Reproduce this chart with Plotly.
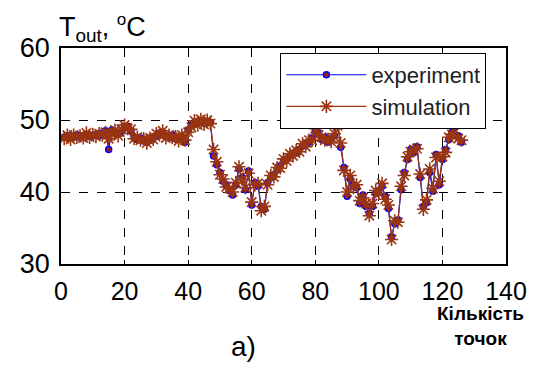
import plotly.graph_objects as go

x_points = list(range(1, 127))

experiment = [
    47.6, 47.8, 47.5, 47.7, 47.9, 47.6, 47.8, 48.0, 47.7, 47.8,
    48.0, 47.8, 48.2, 48.5, 45.9, 48.6, 48.3, 48.0, 48.4, 48.9,
    49.1, 48.5, 47.6, 47.3, 47.5, 47.1, 46.9, 47.2, 47.5, 47.8,
    48.2, 48.3, 47.8, 47.6, 47.9, 47.4, 47.3, 47.6, 46.9, 48.6,
    49.3, 49.7, 49.5, 49.9, 49.6, 49.8, 49.7, 45.0, 43.8, 42.7,
    41.5, 41.0, 40.2, 39.6, 41.0, 43.2, 42.0, 40.3, 42.9, 38.2,
    41.3, 40.8, 38.0, 37.6, 41.3, 42.0, 42.4, 43.1, 43.6, 44.3,
    44.6, 45.0, 45.2, 45.5, 45.9, 46.4, 46.6, 46.9, 47.5, 48.5,
    48.2, 47.3, 47.6, 46.9, 47.4, 47.8, 50.0, 46.2, 43.4, 39.4,
    41.8, 41.0, 40.6, 38.4, 39.6, 38.0, 37.0, 38.0, 39.8, 40.2,
    40.8, 39.4, 37.7, 33.8, 35.6, 36.1, 40.3, 42.7, 44.5, 45.9,
    45.5, 46.3, 42.0, 38.0, 38.5, 42.7, 40.1, 45.2, 41.0, 44.5,
    45.9, 47.3, 48.3, 49.0, 47.8, 46.9,
]

simulation = [
    47.4, 47.9, 47.3, 47.9, 47.6, 47.8, 47.5, 48.2, 47.6, 48.0,
    47.7, 48.1, 47.9, 48.3, 47.4, 48.0, 48.6, 47.8, 48.7, 49.3,
    48.8, 48.7, 47.4, 47.6, 47.2, 47.4, 46.8, 47.5, 47.3, 48.1,
    47.9, 48.5, 47.5, 47.9, 47.6, 47.7, 47.1, 47.9, 47.2, 48.3,
    49.0, 49.9, 49.3, 50.1, 49.4, 50.0, 49.5, 45.9, 44.2, 42.4,
    41.8, 40.7, 40.5, 40.0, 41.3, 43.5, 41.7, 40.6, 42.6, 38.6,
    41.0, 41.2, 37.4, 38.0, 41.0, 42.3, 42.1, 43.4, 43.3, 44.6,
    44.3, 45.3, 45.0, 45.8, 45.6, 46.7, 46.3, 47.2, 47.2, 48.8,
    47.9, 47.6, 47.2, 47.3, 47.0, 48.1, 49.2, 46.8, 43.0, 40.0,
    42.3, 40.6, 41.0, 38.8, 39.2, 38.4, 36.7, 38.4, 40.2, 39.8,
    41.2, 39.0, 38.2, 33.4, 36.0, 35.8, 40.8, 42.3, 44.9, 45.6,
    45.9, 46.0, 42.5, 37.6, 38.9, 43.2, 40.5, 44.8, 41.5, 44.9,
    45.5, 47.6, 48.0, 49.4, 47.4, 47.2,
]

x_ticks = [0, 20, 40, 60, 80, 100, 120, 140]
y_ticks = [30, 40, 50, 60]

BLUE = "#0000ff"
BROWN = "#9a3510"
FONT = "Liberation Sans, Arial, sans-serif"

fig = go.Figure()
fig.add_trace(go.Scatter(
    x=x_points, y=experiment, name="experiment", mode="lines+markers",
    line=dict(color=BLUE, width=1.2),
    marker=dict(symbol="circle", size=6, color="#a02010",
                line=dict(color=BLUE, width=1.5)),
))
fig.add_trace(go.Scatter(
    x=x_points, y=simulation, name="simulation", mode="lines+markers",
    line=dict(color=BROWN, width=1.2),
    marker=dict(symbol="asterisk-open", size=11, color=BROWN,
                line=dict(color=BROWN, width=1.6)),
))

fig.update_layout(
    width=536, height=357,
    margin=dict(l=48, r=38, t=40, b=101),
    paper_bgcolor="white", plot_bgcolor="white",
    font=dict(family=FONT, size=20, color="black"),
    showlegend=True,
    legend=dict(
        x=0.493, y=0.977, xanchor="left", yanchor="top",
        bgcolor="white", bordercolor="black", borderwidth=1,
        font=dict(family=FONT, size=22, color="#222"),
        itemwidth=80, tracegroupgap=0,
    ),
    xaxis=dict(
        range=[0, 140], tickvals=x_ticks, ticktext=[str(v) for v in x_ticks],
        showgrid=True, gridcolor="black", griddash="dash", gridwidth=1,
        showline=True, linecolor="black", linewidth=1.5, mirror=True,
        ticks="inside", ticklen=4, tickcolor="black",
        zeroline=False, tickfont=dict(size=25, family=FONT),
        ticklabelstandoff=4,
    ),
    yaxis=dict(
        range=[30, 60], tickvals=y_ticks, ticktext=[str(v) for v in y_ticks],
        showgrid=True, gridcolor="black", griddash="dash", gridwidth=1,
        showline=True, linecolor="black", linewidth=1.5, mirror=True,
        ticks="inside", ticklen=4, tickcolor="black",
        zeroline=False, tickfont=dict(size=27, family=FONT),
        ticklabelstandoff=4,
    ),
    annotations=[
        dict(text="T<sub>out</sub>, <sup><span style='font-size:17px'>o</span></sup>C",
             xref="paper", yref="paper",
             x=-0.009, y=1.0, xanchor="left", yanchor="bottom", yshift=0,
             showarrow=False, font=dict(size=27, family=FONT)),
        dict(text="<b>Кількість<br>точок</b>", xref="paper", yref="paper",
             x=0.942, y=-0.172, xanchor="center", yanchor="top",
             showarrow=False, align="center",
             font=dict(size=19, family=FONT)),
        dict(text="а)", xref="paper", yref="paper",
             x=0.409, y=-0.30, xanchor="center", yanchor="top",
             showarrow=False, font=dict(size=28, family=FONT)),
    ],
)

fig.write_html("out.html")
